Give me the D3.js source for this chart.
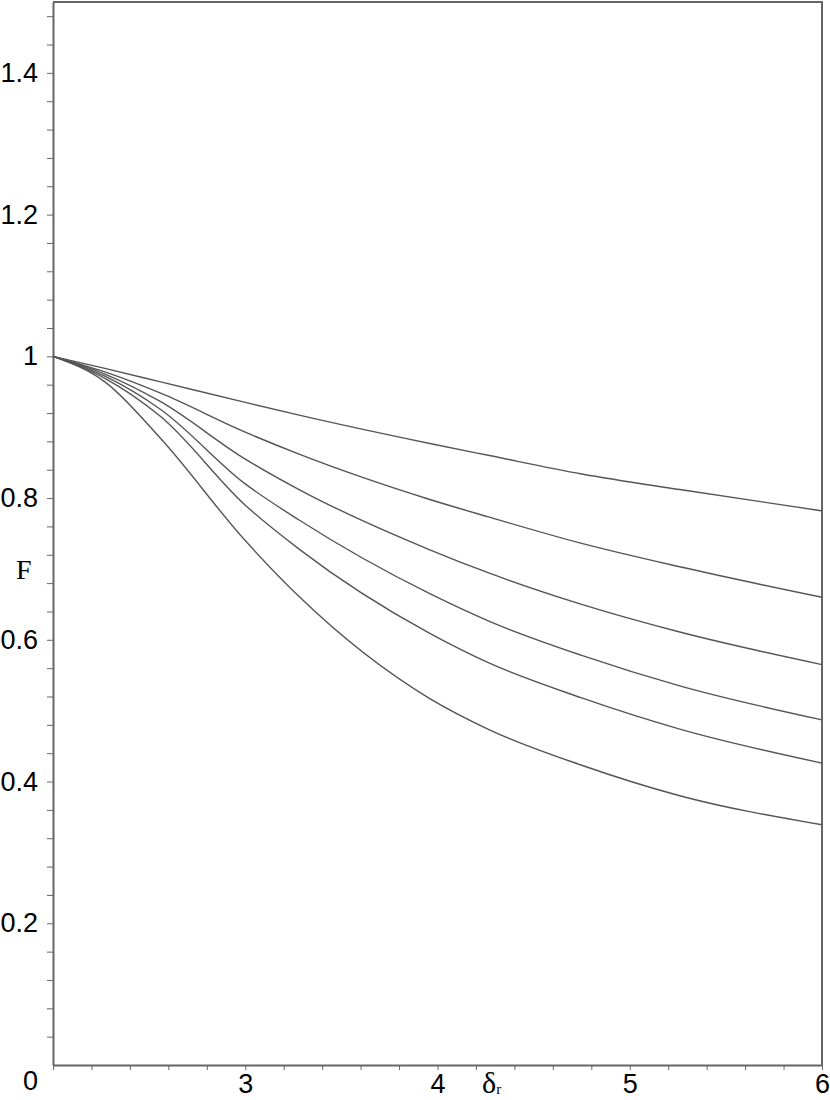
<!DOCTYPE html>
<html>
<head>
<meta charset="utf-8">
<script src="https://cdn.jsdelivr.net/npm/d3@7"></script>
<style>
  body { margin: 0; background: #fff; }
  .axis text { font-family: "Liberation Sans", Arial, sans-serif; font-size: 27px; fill: #000; }
  .axis path, .axis line { stroke: #666; }
</style>
</head>
<body>
<div id="svg-container"></div>
<script>
// x values (delta_r) where the curves were read
var deltaValues = [2, 2.27, 2.56, 3.0, 3.28, 3.96, 4.27, 4.75, 5.26, 6];

// F values, one array per curve (top to bottom)
var curve1 = [1, 0.983, 0.964, 0.935, 0.917, 0.877, 0.860, 0.834, 0.812, 0.782];
var curve2 = [1, 0.978, 0.948, 0.893, 0.862, 0.798, 0.773, 0.736, 0.703, 0.660];
var curve3 = [1, 0.975, 0.936, 0.855, 0.812, 0.727, 0.694, 0.650, 0.611, 0.565];
var curve4 = [1, 0.972, 0.925, 0.820, 0.769, 0.665, 0.626, 0.578, 0.535, 0.487];
var curve5 = [1, 0.969, 0.915, 0.790, 0.728, 0.609, 0.567, 0.518, 0.474, 0.426];
var curve6 = [1, 0.964, 0.884, 0.740, 0.661, 0.517, 0.473, 0.423, 0.380, 0.339];

// tick labels
var xTickLabels = [3, 4, 5, 6];
var yTickLabels = [0.2, 0.4, 0.6, 0.8, 1, 1.2, 1.4];

var curves = [curve1, curve2, curve3, curve4, curve5, curve6];

// svg dimensions
var width = 830;
var height = 1100;

var svg = d3.select("#svg-container").append("svg")
    .attr("width", width)
    .attr("height", height);

// scales
var x = d3.scaleLinear().domain([2, 6]).range([53, 822]);
var y = d3.scaleLinear().domain([0, 1.5]).range([1065, 2]);

// frame (top and right edges)
svg.append("path")
    .attr("d", "M" + x(2) + "," + y(1.5) + "H" + x(6) + "V" + y(0))
    .attr("fill", "none")
    .attr("stroke", "#666")
    .attr("stroke-width", 2);

// x-axis: minor ticks every 0.2, labels at integers
var xAxis = d3.axisBottom(x)
    .tickValues(d3.range(0, 21).map(function(i) { return 2 + i * 0.2; }))
    .tickSize(5)
    .tickSizeOuter(0)
    .tickPadding(4)
    .tickFormat(function(d) {
      var r = Math.round(d * 10) / 10;
      return xTickLabels.indexOf(r) >= 0 ? String(r) : "";
    });

var gx = svg.append("g")
    .attr("class", "axis x")
    .attr("transform", "translate(0," + y(0) + ")")
    .call(xAxis);
gx.select(".domain").attr("stroke-width", 2);
gx.selectAll("text").attr("dy", "0.71em");

// y-axis: minor ticks every 0.04, labels every 0.2
var yAxis = d3.axisLeft(y)
    .tickValues(d3.range(1, 38).map(function(i) { return i * 0.04; }))
    .tickSize(6)
    .tickSizeOuter(0)
    .tickPadding(12)
    .tickFormat(function(d) {
      var r = Math.round(d * 100) / 100;
      return yTickLabels.indexOf(r) >= 0 ? String(r) : "";
    });

var gy = svg.append("g")
    .attr("class", "axis y")
    .attr("transform", "translate(" + x(2) + ",0)")
    .call(yAxis);
gy.select(".domain").attr("stroke-width", 2);
gy.selectAll("text").attr("x", -15);

// origin label
svg.append("text")
    .attr("x", 38)
    .attr("y", 1090)
    .attr("text-anchor", "end")
    .attr("font-family", "Liberation Sans, Arial, sans-serif")
    .attr("font-size", 27)
    .text("0");

// curves
var line = d3.line()
    .x(function(d) { return x(d[0]); })
    .y(function(d) { return y(d[1]); })
    .curve(d3.curveMonotoneX);

svg.selectAll(".curve")
    .data(curves)
    .enter()
    .append("path")
      .attr("class", "curve")
      .attr("fill", "none")
      .attr("stroke", "#555")
      .attr("stroke-width", 1.4)
      .attr("d", function(vals) {
        return line(vals.map(function(v, i) { return [deltaValues[i], v]; }));
      });

// axis titles
svg.append("text")
    .attr("x", 16)
    .attr("y", 579)
    .attr("font-family", "Liberation Serif, Times New Roman, serif")
    .attr("font-size", 28)
    .text("F");

var dl = svg.append("text")
    .attr("x", 482)
    .attr("y", 1093)
    .attr("font-family", "Liberation Serif, Times New Roman, serif")
    .attr("font-size", 30)
    .text("δ");
dl.append("tspan")
    .attr("font-size", 15)
    .attr("dy", 1)
    .text("r");
</script>
</body>
</html>
